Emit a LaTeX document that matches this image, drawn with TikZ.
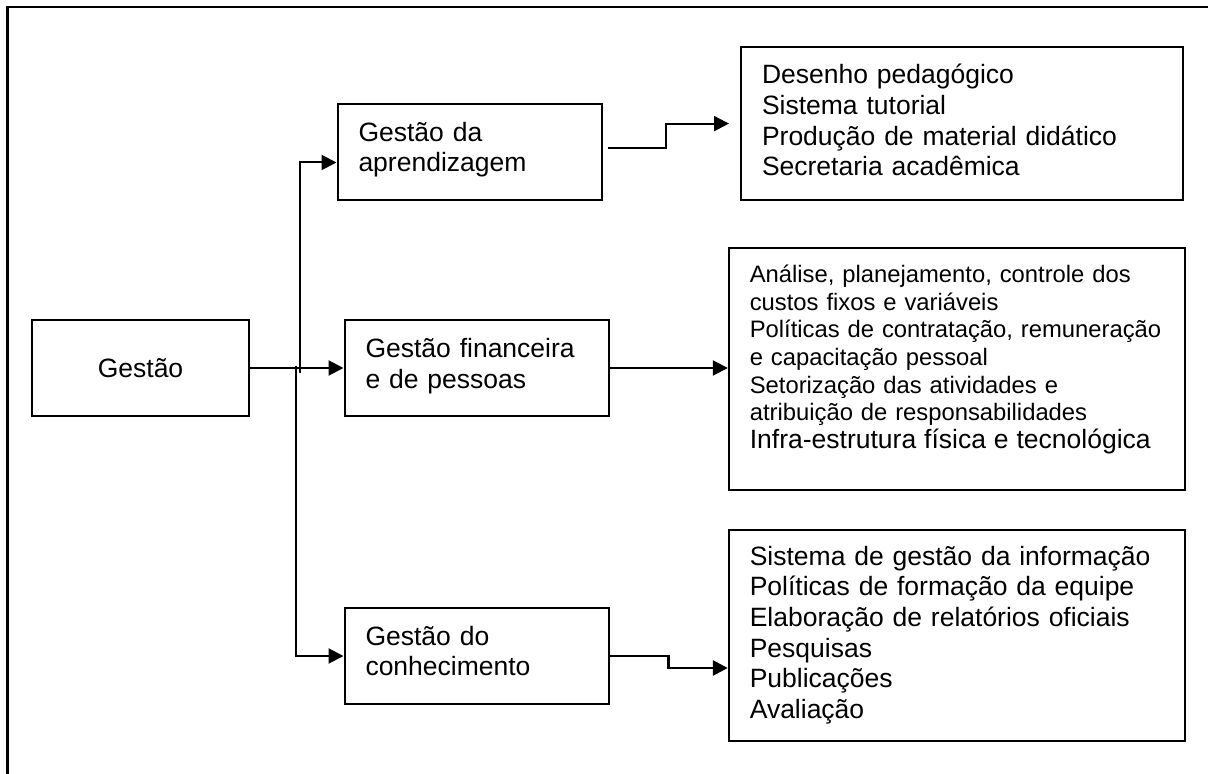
\documentclass[tikz,border=0pt]{standalone}
\usepackage{fontspec}
\setmainfont{Liberation Sans}
\usetikzlibrary{arrows.meta,calc}
\newcommand{\lift}[1]{\rule[-#1]{0pt}{#1}}

\begin{document}
\begin{tikzpicture}[x=0.5pt,y=0.5pt,
  box/.style={draw,line width=1pt,inner xsep=10.5pt,inner ysep=0pt,minimum height=48pt,align=left,font=\fontsize{13.25pt}{15.3pt}\selectfont},
  link/.style={line width=1pt,-{Triangle[length=7.5pt,width=7.5pt]}}]
\useasboundingbox (0,0) rectangle (1208,-774);
\draw [line width=1.25pt] (7.5,-800) -- (7.5,-7) -- (1230,-7);

\node[box,align=center,minimum width=108.5pt] (gestao) at (140.5,-368) {Gestão};
\node[box,text width=111pt] (aprend) at (469.5,-152.5) {Gestão da\\aprendizagem\lift{5.5pt}};
\node[box,text width=111pt] (financ) at (476.5,-368) {Gestão financeira\\e de pessoas\lift{4.5pt}};
\node[box,text width=111pt] (conhec) at (476.5,-656) {Gestão do\\conhecimento\lift{5pt}};
\node[box,text width=199.8pt,minimum height=76.75pt] (desenho) at (961.8,-123.6) {Desenho pedagógico\\Sistema tutorial\\Produção de material didático\\Secretaria acadêmica\lift{3.5pt}};
\node[box,text width=207pt,minimum height=121pt,font=\fontsize{11.9pt}{13.8pt}\selectfont] (analise) at (956.8,-368.7) {Análise, planejamento, controle dos\\custos fixos e variáveis\\Políticas de contratação, remuneração\\e capacitação pessoal\\Setorização das atividades e\\atribuição de responsabilidades\\{\fontsize{13.25pt}{15.3pt}\selectfont Infra-estrutura física e tecnológica}\lift{12pt}};
\node[box,text width=207pt,minimum height=105.5pt] (sistema) at (956.8,-635) {Sistema de gestão da informação\\Políticas de formação da equipe\\Elaboração de relatórios oficiais\\Pesquisas\\Publicações\\Avaliação\lift{1.5pt}};

\coordinate (split) at (298,-368);
\coordinate (desin) at ([xshift=-5.5pt]desenho.west);
\coordinate (sisin) at ([yshift=-16.5pt]sistema.west);
\draw[link] (gestao.east) -- (financ.west);
\draw[link] ([xshift=1pt,yshift=-2.5pt]split) |- ([yshift=-5pt]aprend.west);
\draw[link] ([xshift=-1pt,yshift=1pt]split) |- (conhec.west);
\draw[link] ([xshift=2.5pt,yshift=2.25pt]aprend.east) -| ($(aprend.east)!.5!(desin)$) |- (desin);
\draw[link] (financ.east) -- (financ.east -| analise.west);
\draw[link,line width=1.4pt] (conhec.east) -| ($(conhec.east)!.5!(sisin)$) |- (sisin);
\end{tikzpicture}
\end{document}
